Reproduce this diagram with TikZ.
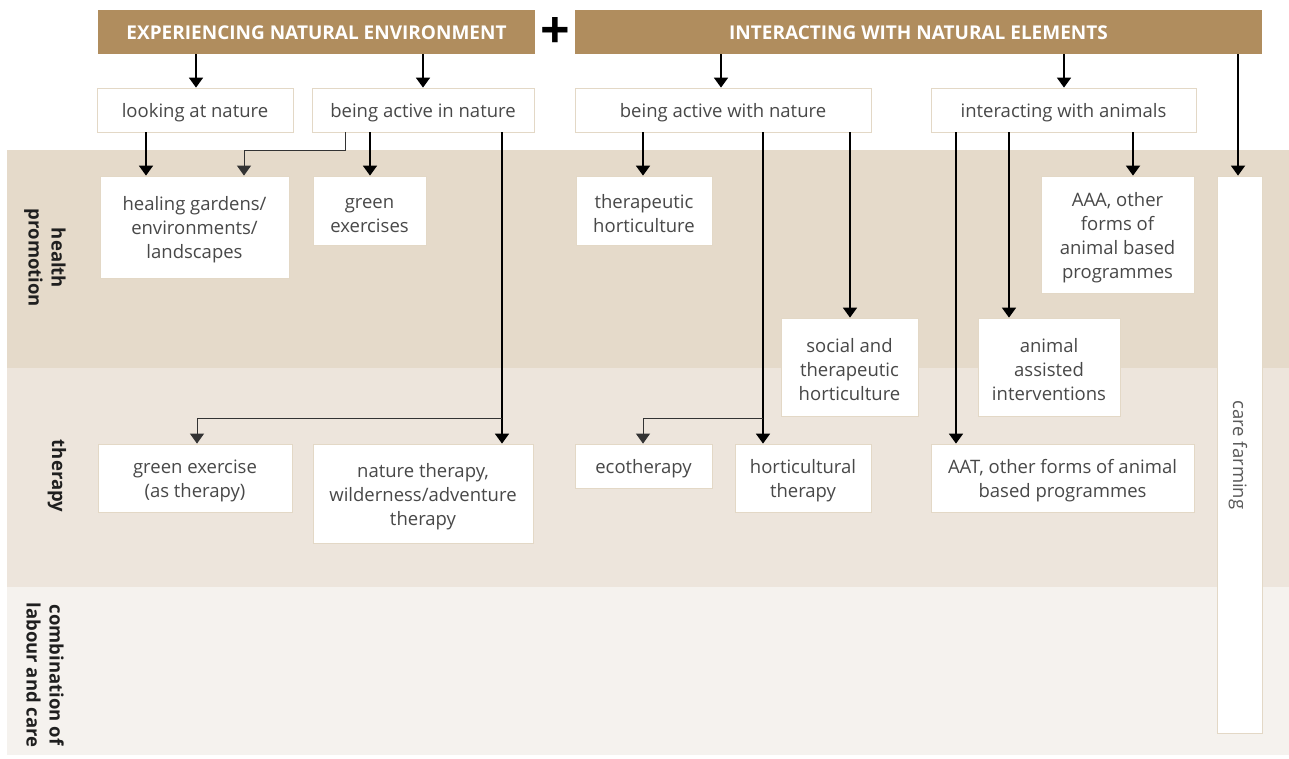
\documentclass[tikz,border=0pt]{standalone}
\usepackage{fontspec}
\setmainfont{Open Sans}
\usetikzlibrary{arrows.meta}
\definecolor{hdr}{HTML}{B08D5E}
\definecolor{bandA}{HTML}{E5DACA}
\definecolor{bandB}{HTML}{EDE5DC}
\definecolor{bandC}{HTML}{F5F2EE}
\definecolor{bord}{HTML}{E3D8C6}
\definecolor{txt}{HTML}{484848}
\newcommand\tp{\rule{0pt}{20pt}}
\begin{document}
\begin{tikzpicture}[x=1pt,y=-1pt,
  hdrbox/.style={fill=hdr,draw=none,text=white,font=\fontsize{19}{22}\selectfont\bfseries,inner sep=0pt,
    execute at begin node={\rule{0pt}{16pt}}},
  box/.style={fill=white,draw=bord,line width=0.8pt,text=txt,align=center,inner sep=0pt,
    font=\fontsize{18.5}{24}\selectfont},
  side/.style={rotate=-90,align=center,font=\fontsize{18.5}{23}\selectfont\bfseries,text=black!88},
  arr/.style={line width=1.8pt,-{Triangle[width=14pt,length=10pt]}},
  thin/.style={line width=1pt,draw=black!80,-{Triangle[width=14pt,length=10pt]}}]
\useasboundingbox (0,0) rectangle (1289,758);
% bands
\fill[bandA] (7,150) rectangle (1289,368);
\fill[bandB] (7,368) rectangle (1289,587);
\fill[bandC] (7,587) rectangle (1289,755);
\node[side] (lhp) at (45,258) {health\\promotion};
\node[side] (lth) at (57,476) {therapy};
\node[side] (llc) at (45,675) {combination of\\labour and care};
% headers
\node[hdrbox,minimum width=437pt,minimum height=44pt] (h1) at (316.5,32) {EXPERIENCING NATURAL ENVIRONMENT};
\node[hdrbox,minimum width=687pt,minimum height=44pt] (h2) at (918.5,32) {INTERACTING WITH NATURAL ELEMENTS};
\node[font=\fontsize{52}{52}\selectfont\bfseries,text=black,inner sep=0pt] (plus) at (555.5,33) {+};
% second row
\node[box,minimum width=196pt,minimum height=44pt] (look) at (195,110) {\tp looking at nature};
\node[box,minimum width=222pt,minimum height=44pt] (actin) at (423,110) {\tp being active in nature};
\node[box,minimum width=296pt,minimum height=44pt] (actwith) at (723,110) {\tp being active with nature};
\node[box,minimum width=265pt,minimum height=44pt] (anim) at (1063.5,110) {\tp interacting with animals};
% health promotion
\node[box,minimum width=189pt,minimum height=102pt] (heal) at (194.5,227) {\tp healing gardens/\\environments/\\landscapes};
\node[box,minimum width=113pt,minimum height=69pt] (gex) at (369.5,210.5) {\tp green\\exercises};
\node[box,minimum width=136pt,minimum height=69pt] (thort) at (644,210.5) {\tp therapeutic\\horticulture};
\node[box,minimum width=153pt,minimum height=117pt] (aaa) at (1117.5,234.5) {\tp AAA, other\\forms of\\animal based\\programmes};
\node[box,minimum width=137pt,minimum height=98pt] (soc) at (849.5,367) {\tp social and\\therapeutic\\horticulture};
\node[box,minimum width=142pt,minimum height=98pt] (aai) at (1049,367) {\tp animal\\assisted\\interventions};
% therapy
\node[box,minimum width=194pt,minimum height=68pt] (gext) at (195,478) {\tp green exercise\\(as therapy)};
\node[box,minimum width=220pt,minimum height=99pt] (nat) at (423,493.5) {\tp nature therapy,\\wilderness/adventure\\therapy};
\node[box,minimum width=137pt,minimum height=44pt] (eco) at (643.5,466) {\tp ecotherapy};
\node[box,minimum width=136pt,minimum height=68pt] (htt) at (803,478) {\tp horticultural\\therapy};
\node[box,minimum width=263pt,minimum height=68pt] (aat) at (1062.5,478) {\tp AAT, other forms of animal\\based programmes};
% care farming
\node[box,minimum width=45pt,minimum height=557pt] (care) at (1239.5,454.5) {};
\node[rotate=-90,text=black!65,font=\fontsize{18.5}{20}\selectfont] (caretxt) at (1238,455) {care farming};
% x coordinates
\coordinate (x146) at (146,0);
\coordinate (x244) at (244,0);
\coordinate (x345) at (345,0);
\coordinate (x370) at (370,0);
\coordinate (x502) at (502,0);
\coordinate (x197) at (197,0);
\coordinate (x643) at (643,0);
\coordinate (x763) at (763,0);
\coordinate (x850) at (850,0);
\coordinate (x956) at (956,0);
\coordinate (x1009) at (1009,0);
\coordinate (x1133) at (1133,0);
\coordinate (x1238) at (1238,0);
\coordinate (x721) at (721,0);
\coordinate (x1064) at (1064,0);
\coordinate (x196) at (196,0);
\coordinate (x423) at (423,0);
\coordinate (yb1) at (0,150);
\coordinate (yb2) at (0,418);
% header arrows
\draw[arr] (x196 |- h1.south) -- (x196 |- look.north);
\draw[arr] (x423 |- h1.south) -- (x423 |- actin.north);
\draw[arr] (x721 |- h2.south) -- (x721 |- actwith.north);
\draw[arr] (x1064 |- h2.south) -- (x1064 |- anim.north);
\draw[arr] (x1238 |- h2.south) -- (x1238 |- care.north);
% looking at nature
\draw[arr] (x146 |- look.south) -- (x146 |- heal.north);
% being active in nature
\draw[thin] (x345 |- actin.south) -- (x345 |- yb1) -- (x244 |- yb1) -- (x244 |- heal.north);
\draw[arr] (x370 |- actin.south) -- (x370 |- gex.north);
\draw[arr] (x502 |- actin.south) -- (x502 |- nat.north);
\draw[thin] (x502 |- yb2) -- (x197 |- yb2) -- (x197 |- gext.north);
% being active with nature
\draw[arr] (x643 |- actwith.south) -- (x643 |- thort.north);
\draw[arr] (x763 |- actwith.south) -- (x763 |- htt.north);
\draw[thin] (x763 |- yb2) -- (x643 |- yb2) -- (x643 |- eco.north);
\draw[arr] (x850 |- actwith.south) -- (x850 |- soc.north);
% interacting with animals
\draw[arr] (x956 |- anim.south) -- (x956 |- aat.north);
\draw[arr] (x1009 |- anim.south) -- (x1009 |- aai.north);
\draw[arr] (x1133 |- anim.south) -- (x1133 |- aaa.north);
\end{tikzpicture}
\end{document}
